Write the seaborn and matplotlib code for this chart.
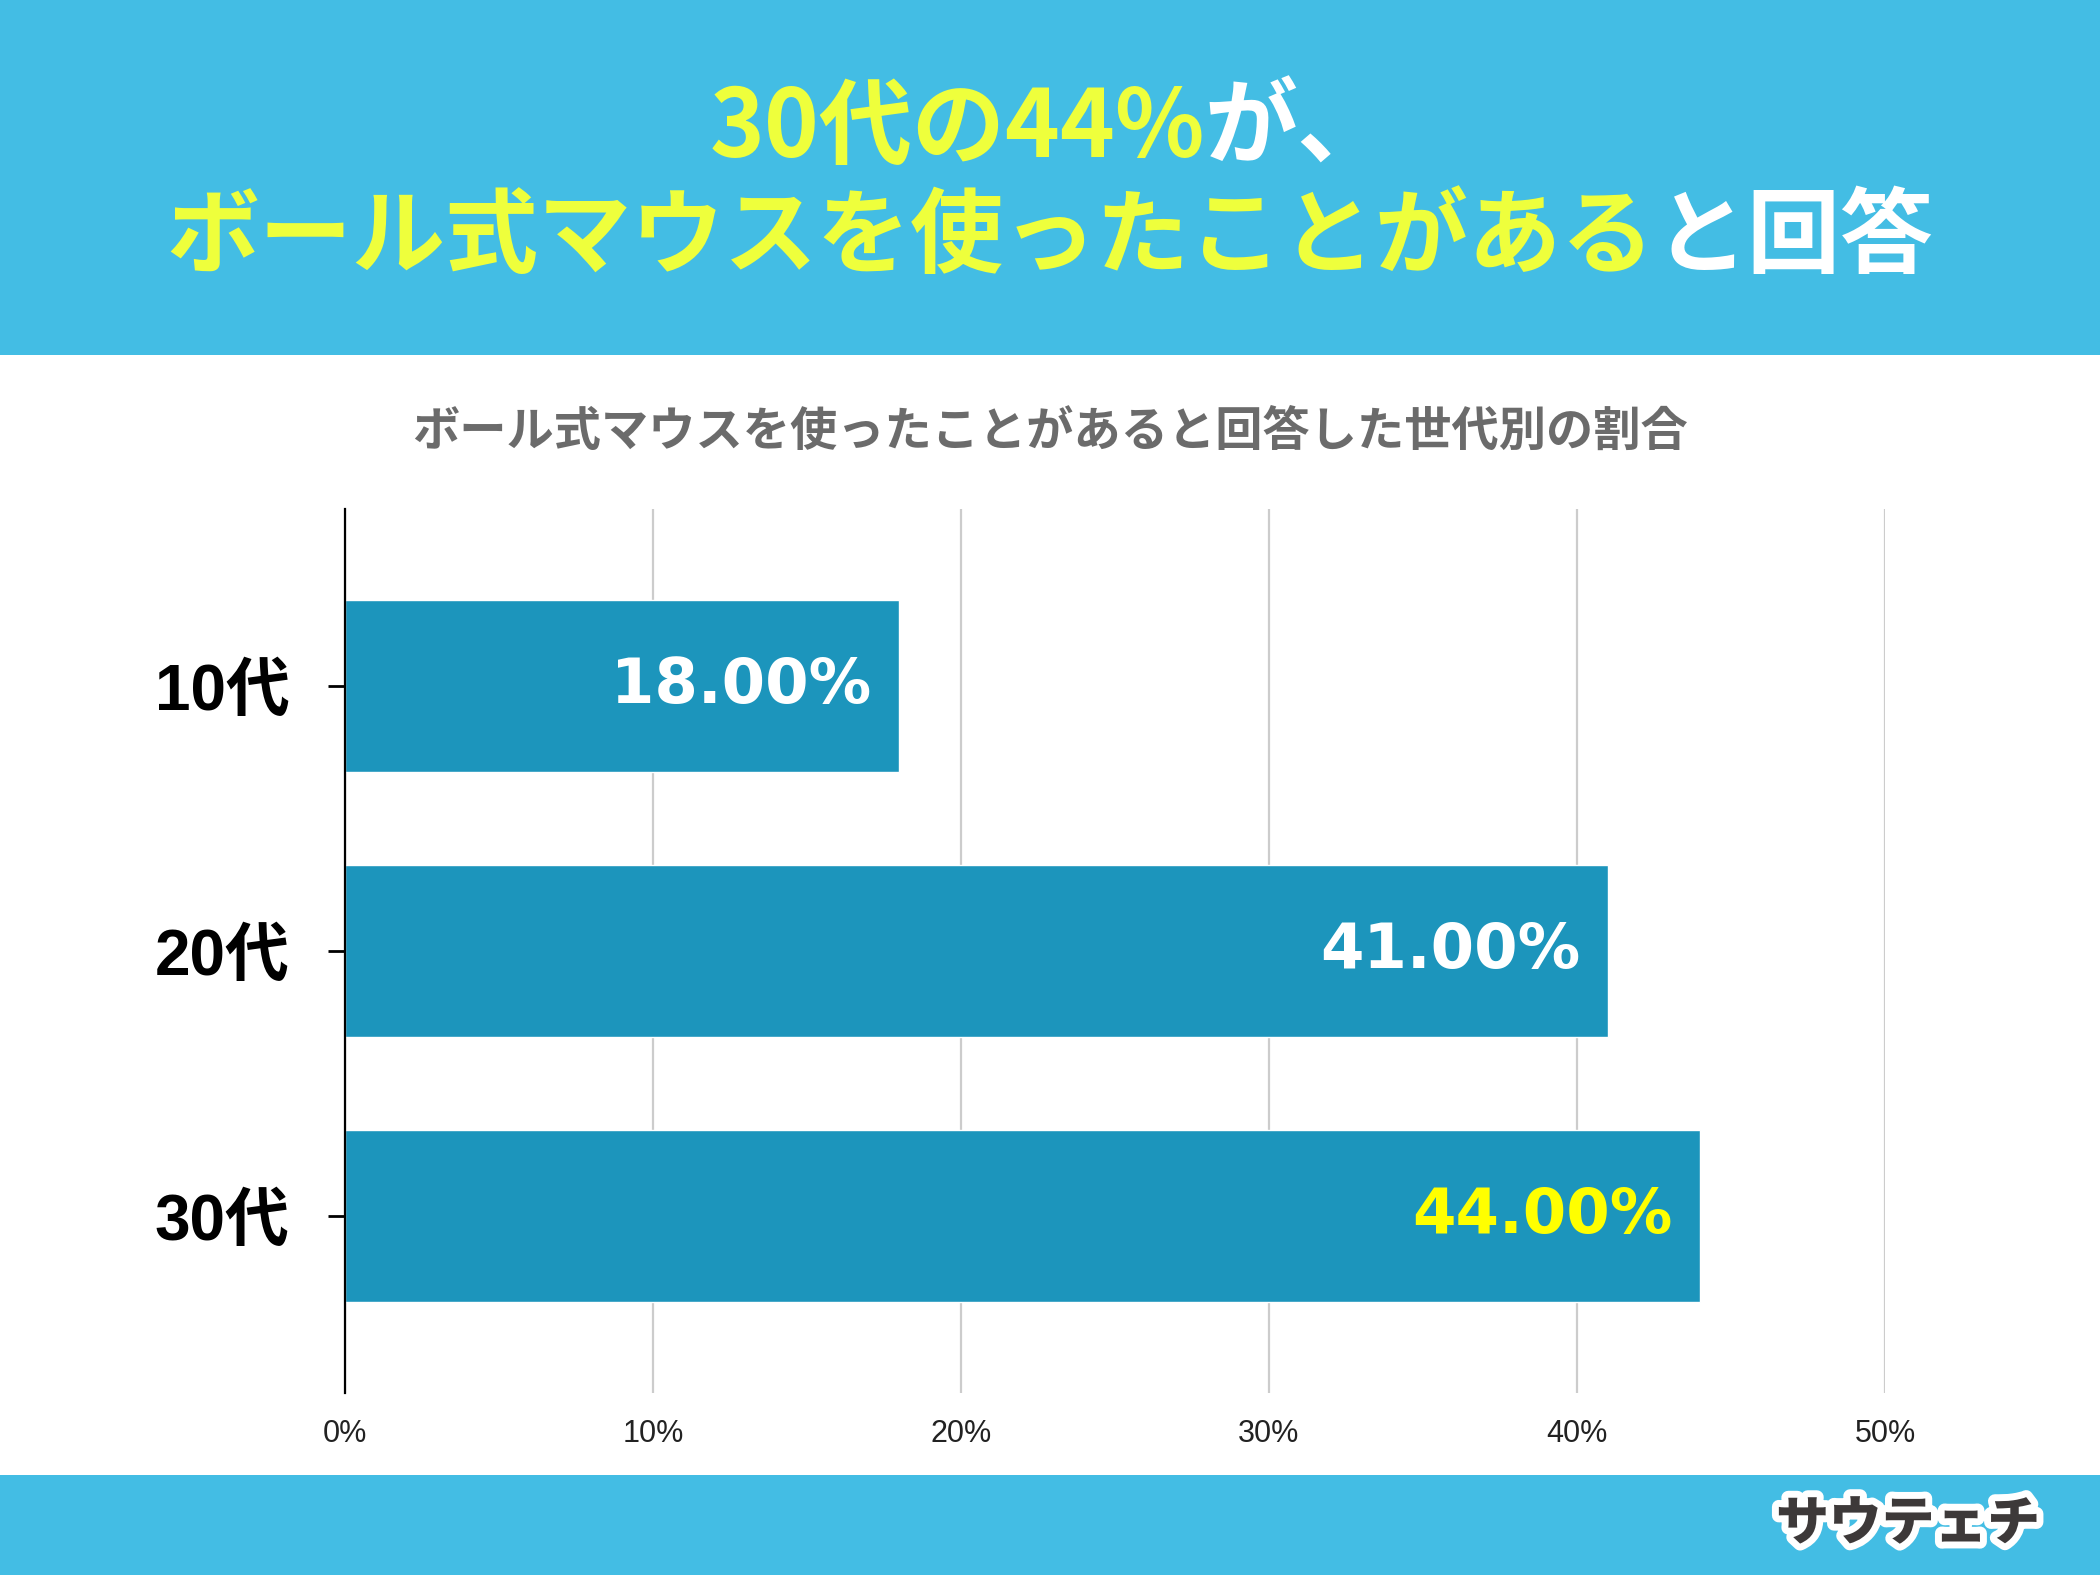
import matplotlib
matplotlib.use("Agg")
import matplotlib.pyplot as plt
import matplotlib.patheffects as pe
from matplotlib.patches import Rectangle
import seaborn as sns
import pandas as pd

categories = ["10代", "20代", "30代"]
values = [18.0, 41.0, 44.0]
label_texts = ["18.00%", "41.00%", "44.00%"]
label_colors = ["#FFFFFF", "#FFFFFF", "#FFFF00"]
xticks = [0, 10, 20, 30, 40, 50]
xtick_labels = ["0%", "10%", "20%", "30%", "40%", "50%"]
title_line1 = [("30代の44%", "#EEFF3C"), ("が、", "#FFFFFF")]
title_line2 = [("ボール式マウスを使ったことがある", "#EEFF3C"), ("と回答", "#FFFFFF")]
subtitle = "ボール式マウスを使ったことがあると回答した世代別の割合"
logo_text = "サウテェチ"

sns.set_theme(style="white")
plt.rcParams["font.family"] = ["Noto Sans CJK JP", "DejaVu Sans"]

BANNER = "#43BDE4"
BAR = "#1C95BC"

fig = plt.figure(figsize=(21, 15.75), dpi=100)
fig.patch.set_facecolor("white")
fig.patches.append(Rectangle((0, 1 - 355 / 1575), 1, 355 / 1575, transform=fig.transFigure,
                             facecolor=BANNER, edgecolor="none", zorder=0))
fig.patches.append(Rectangle((0, 0), 1, 100 / 1575, transform=fig.transFigure,
                             facecolor=BANNER, edgecolor="none", zorder=0))

ax = fig.add_axes([345 / 2100, 1 - 1393 / 1575, 1540 / 2100, 884 / 1575])
df = pd.DataFrame({"cat": categories, "val": values})
sns.barplot(data=df, x="val", y="cat", orient="h", color=BAR, saturation=1,
            width=0.646, ax=ax, zorder=3)
ax.set_xlim(0, 50)
ax.set_ylim(2.668, -0.668)
ax.set_xlabel("")
ax.set_ylabel("")
ax.set_xticks(xticks)
ax.set_xticklabels(xtick_labels, fontsize=22, family=["Liberation Sans", "DejaVu Sans"], color="#222222")
ax.tick_params(axis="x", length=0, pad=19)
ax.set_yticks(range(len(categories)))
ax.set_yticklabels(categories, fontsize=46, fontweight="bold",
                   family=["Liberation Sans", "Noto Sans CJK JP"], color="black")
ax.tick_params(axis="y", direction="inout", length=24, width=2, color="black", pad=28, left=True)
ax.grid(axis="x", color="#CCCCCC", linewidth=1.6)
ax.grid(axis="y", visible=False)
ax.set_axisbelow(True)
for s in ["top", "right", "bottom"]:
    ax.spines[s].set_visible(False)
ax.spines["left"].set_color("black")
ax.spines["left"].set_linewidth(1.6)
ax.spines["left"].set_zorder(5)
ax.set_facecolor("white")

for i, (v, t, c) in enumerate(zip(values, label_texts, label_colors)):
    ax.annotate(t, xy=(v, i), xytext=(-20, 0), textcoords="offset points",
                ha="right", va="center", fontsize=45, fontweight="bold",
                color=c, family="DejaVu Sans", zorder=6)

# multicolor title lines
renderer = fig.canvas.get_renderer()

def draw_line(parts, y, size):
    objs = []
    for txt, col in parts:
        o = fig.text(0, y, txt, fontsize=size, fontweight="bold", color=col,
                     ha="left", va="center", family=["Noto Sans CJK JP", "DejaVu Sans"])
        objs.append(o)
    widths = [o.get_window_extent(renderer).width / fig.bbox.width for o in objs]
    x = 0.5 - sum(widths) / 2
    for o, w in zip(objs, widths):
        o.set_x(x)
        x += w

draw_line(title_line1, 1 - 129 / 1575, 67)
draw_line(title_line2, 1 - 238 / 1575, 67)

fig.text(0.5, 1 - 432 / 1575, subtitle, fontsize=34, fontweight="bold", color="#6B6B6B",
         ha="center", va="center")

fig.text(1908 / 2100, 1 - 1524 / 1575, logo_text, fontsize=38, fontweight="heavy",
         color="#3D3939", ha="center", va="center",
         path_effects=[pe.withStroke(linewidth=10, foreground="white")])

fig.savefig("out.png", dpi=100, facecolor="white")
